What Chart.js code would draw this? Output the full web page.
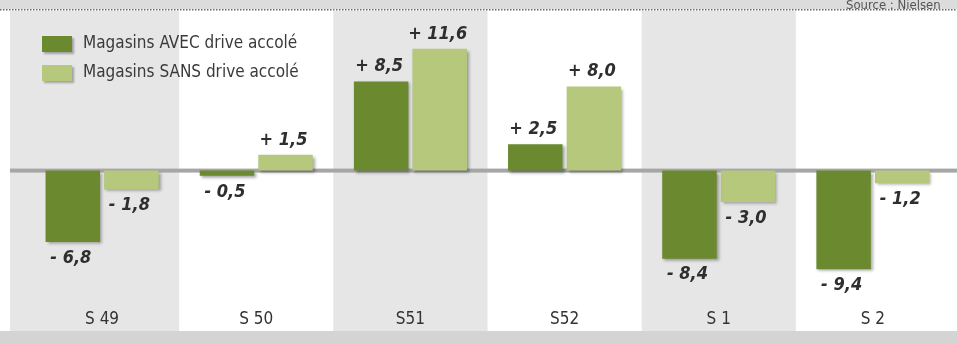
<!DOCTYPE html>
<html>
<head>
<meta charset="utf-8">
<script src="https://cdn.jsdelivr.net/npm/chart.js@4"></script>
<style>
  html, body { margin: 0; padding: 0; background: #ffffff; }
  #drive-chart { display: block; }
</style>
</head>
<body>
<canvas id="drive-chart" width="957" height="344"></canvas>
<script>
const weeks = ["S 49", "S 50", "S51", "S52", "S 1", "S 2"];
const avecDrive = [-6.8, -0.5, 8.5, 2.5, -8.4, -9.4];
const sansDrive = [-1.8, 1.5, 11.6, 8.0, -3.0, -1.2];
const seriesNames = ["Magasins AVEC drive accolé", "Magasins SANS drive accolé"];
const sourceText = "Source : Nielsen";

const darkGreen = "#6b8a2f";
const lightGreen = "#b6c87c";
const textFont = "'Liberation Sans Narrow', 'DejaVu Sans Condensed', 'Liberation Sans', sans-serif";

// format "+ 8,5" / "- 6,8"
function fmt(v) {
	return (v >= 0 ? "+ " : "- ") + Math.abs(v).toFixed(1).replace(".", ",");
}

// background: top strip, dotted rule, shaded columns, bottom strip, zero band
const backdrop = {
	id: "backdrop",
	beforeDraw(chart) {
		const { ctx, width, height, scales: { x, y } } = chart;
		ctx.save();
		ctx.fillStyle = "#dcdcdc";
		ctx.fillRect(0, 0, width, 9);
		ctx.fillStyle = "#555";
		ctx.font = "13px " + textFont;
		ctx.textBaseline = "alphabetic";
		ctx.fillText(sourceText, 846, 9);
		// dotted rule
		ctx.fillStyle = "#666";
		for (let px = 0; px < width; px += 3) ctx.fillRect(px, 9, 1.5, 1.5);

		const step = x.getPixelForValue(1) - x.getPixelForValue(0);
		weeks.forEach((w, i) => {
			if (i % 2 === 0) {
				let left = x.getPixelForValue(i) - step / 2;
				if (i === 0) left = 10;
				const right = x.getPixelForValue(i) + step / 2;
				ctx.fillStyle = "#e6e6e6";
				ctx.fillRect(left, 11, right - left, 320);
			}
		});
		ctx.fillStyle = "#d4d4d4";
		ctx.fillRect(0, 331, width, height - 331);

		// zero band
		const y0 = y.getPixelForValue(0);
		ctx.fillStyle = "#a6a6a6";
		ctx.fillRect(10, y0 - 2, width - 10, 4);
		ctx.restore();
	},
	beforeDatasetsDraw(chart) {
		const ctx = chart.ctx;
		ctx.save();
		ctx.shadowColor = "rgba(0,0,0,0.35)";
		ctx.shadowOffsetX = 2;
		ctx.shadowOffsetY = 2;
		ctx.shadowBlur = 3;
	},
	afterDatasetsDraw(chart) {
		const ctx = chart.ctx;
		ctx.restore();

		// value labels
		ctx.save();
		ctx.fillStyle = "#2e2e2e";
		ctx.font = "italic bold 18px " + textFont;
		ctx.textAlign = "center";
		ctx.textBaseline = "middle";
		chart.data.datasets.forEach((ds, di) => {
			const meta = chart.getDatasetMeta(di);
			meta.data.forEach((bar, i) => {
				const v = ds.data[i];
				const ty = v >= 0 ? bar.y - 15 : bar.y + 16;
				ctx.fillText(fmt(v), bar.x - 2, ty);
			});
		});

		// legend
		ctx.font = "17px " + textFont;
		ctx.textAlign = "left";
		ctx.fillStyle = "#3a3a3a";
		chart.data.datasets.forEach((ds, di) => {
			const top = 36 + di * 29;
			ctx.save();
			ctx.shadowColor = "rgba(0,0,0,0.3)";
			ctx.shadowOffsetX = 2;
			ctx.shadowOffsetY = 2;
			ctx.shadowBlur = 2;
			ctx.fillStyle = ds.backgroundColor;
			ctx.fillRect(42, top, 30, 16);
			ctx.restore();
			ctx.fillText(ds.label, 83, top + 8);
		});
		ctx.restore();
	}
};

const ctx = document.getElementById("drive-chart").getContext("2d");
new Chart(ctx, {
	type: "bar",
	data: {
		labels: weeks,
		datasets: [
			{ label: seriesNames[0], data: avecDrive, backgroundColor: darkGreen },
			{ label: seriesNames[1], data: sansDrive, backgroundColor: lightGreen }
		]
	},
	options: {
		responsive: false,
		animation: false,
		layout: { padding: { left: 25, right: 7, top: 10, bottom: 10 } },
		categoryPercentage: 0.76,
		barPercentage: 0.93,
		plugins: {
			legend: { display: false },
			tooltip: { enabled: false }
		},
		scales: {
			x: {
				grid: { display: false },
				border: { display: false },
				ticks: {
					color: "#333",
					padding: 4,
					font: { family: textFont, size: 17 }
				}
			},
			y: {
				display: false,
				min: -12.1,
				max: 15.3
			}
		}
	},
	plugins: [backdrop]
});
</script>
</body>
</html>
